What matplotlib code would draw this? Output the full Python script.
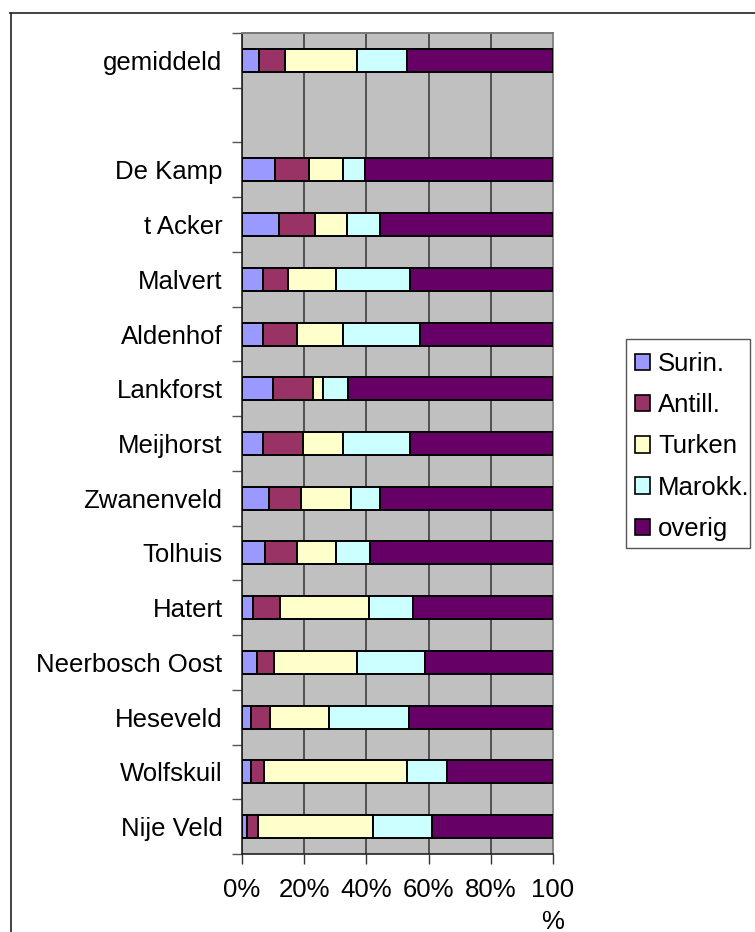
import numpy as np
import matplotlib
matplotlib.use("Agg")
import matplotlib.pyplot as plt
from matplotlib.lines import Line2D
from matplotlib.patches import Patch, Rectangle

plt.rcParams['font.family'] = ['Liberation Sans', 'DejaVu Sans']

# Categories from top to bottom ("" = empty row)
categories = ["gemiddeld", "", "De Kamp", "t Acker", "Malvert", "Aldenhof",
              "Lankforst", "Meijhorst", "Zwanenveld", "Tolhuis", "Hatert",
              "Neerbosch Oost", "Heseveld", "Wolfskuil", "Nije Veld"]

series = ["Surin.", "Antill.", "Turken", "Marokk.", "overig"]

surin  = [5.5, np.nan, 10.6, 12.0, 6.8, 6.8, 10.1, 6.8, 8.8, 7.4, 3.5, 4.9, 3.0, 3.0, 1.7]
antill = [8.4, np.nan, 11.1, 11.6, 7.9, 11.0, 12.8, 12.9, 10.3, 10.4, 8.6, 5.3, 5.9, 4.0, 3.3]
turken = [23.2, np.nan, 10.9, 10.3, 15.4, 14.8, 3.3, 12.9, 15.9, 12.3, 28.7, 26.9, 19.2, 46.2, 37.1]
marokk = [16.0, np.nan, 7.1, 10.4, 23.8, 24.5, 7.8, 21.3, 9.3, 11.0, 14.3, 21.7, 25.7, 12.8, 18.9]
overig = [46.9, np.nan, 60.3, 55.7, 46.1, 42.9, 66.0, 46.1, 55.7, 58.9, 44.9, 41.2, 46.2, 34.0, 39.0]

xticks = [0, 20, 40, 60, 80, 100]
xticklabels = ["0%", "20%", "40%", "60%", "80%", "100\n%"]

colors = ["#9999FF", "#993366", "#FFFFCC", "#CCFFFF", "#660066"]

FS = 18.5
W, H = 755, 932
fig = plt.figure(figsize=(W / 100, H / 100), dpi=100)
fig.patch.set_facecolor("white")
ax = fig.add_axes([242 / W, 1 - 854 / H, (553 - 242) / W, (854 - 33) / H])
ax.set_facecolor("#C0C0C0")

data = np.array([surin, antill, turken, marokk, overig], dtype=float)
n = len(categories)
ypos = np.arange(n)
valid = ~np.isnan(data[0])
left = np.zeros(n)
for i, (name, col) in enumerate(zip(series, colors)):
    vals = data[i]
    ax.barh(ypos[valid], vals[valid], left=left[valid], height=0.42,
            color=col, edgecolor="black", linewidth=1.4, zorder=3)
    left = left + np.nan_to_num(vals)

ax.set_xlim(0, 100)
ax.set_ylim(n - 0.5, -0.5)

ax.set_xticks(xticks)
ax.set_xticklabels(xticklabels, fontsize=FS, linespacing=1.45)
for lbl in ax.get_xticklabels():
    lbl.set_verticalalignment("top")
ax.tick_params(axis="x", direction="out", length=7, width=1, color="#333333", pad=10)

ax.set_yticks(np.arange(-0.5, n, 1.0))
ax.set_yticklabels([])
ax.set_yticks(ypos, minor=True)
ax.set_yticklabels(categories, minor=True, fontsize=FS)
ax.tick_params(axis="y", which="major", direction="out", length=7, width=1, color="#555555")
ax.tick_params(axis="y", which="minor", length=0, pad=14)

ax.grid(axis="x", color="#333333", linewidth=1.1, zorder=1)
ax.set_axisbelow(True)

ax.spines["left"].set_color("#222222")
ax.spines["left"].set_linewidth(1.2)
ax.spines["bottom"].set_color("#222222")
ax.spines["bottom"].set_linewidth(1.2)
ax.spines["top"].set_color("#777777")
ax.spines["top"].set_linewidth(1.4)
ax.spines["right"].set_color("#888888")
ax.spines["right"].set_linewidth(1.4)

# legend frame drawn separately (tight right padding as in the reference)
fig.add_artist(Rectangle((626 / W, 1 - 548 / H), (750 - 626) / W, (548 - 339) / H,
                         transform=fig.transFigure, facecolor="white",
                         edgecolor="#555555", linewidth=1.0, zorder=2))
handles = [Patch(facecolor=c, edgecolor="black", linewidth=1.2) for c in colors]
leg = fig.legend(handles, series, loc="upper left",
                 bbox_to_anchor=(635 / W, 1 - 352 / H), bbox_transform=fig.transFigure,
                 borderaxespad=0, fontsize=FS, frameon=False,
                 handlelength=0.6, handleheight=0.6, handletextpad=0.3,
                 labelspacing=0.67, borderpad=0.0)
leg.set_zorder(3)

# chart outer border (left and top visible)
fig.add_artist(Line2D([10.5 / W, 10.5 / W], [0, 1 - 13 / H], transform=fig.transFigure,
                      color="#333333", linewidth=1.3))
fig.add_artist(Line2D([10 / W, 1], [1 - 13 / H, 1 - 13 / H], transform=fig.transFigure,
                      color="#333333", linewidth=1.3))

fig.savefig("out.png", dpi=100)
